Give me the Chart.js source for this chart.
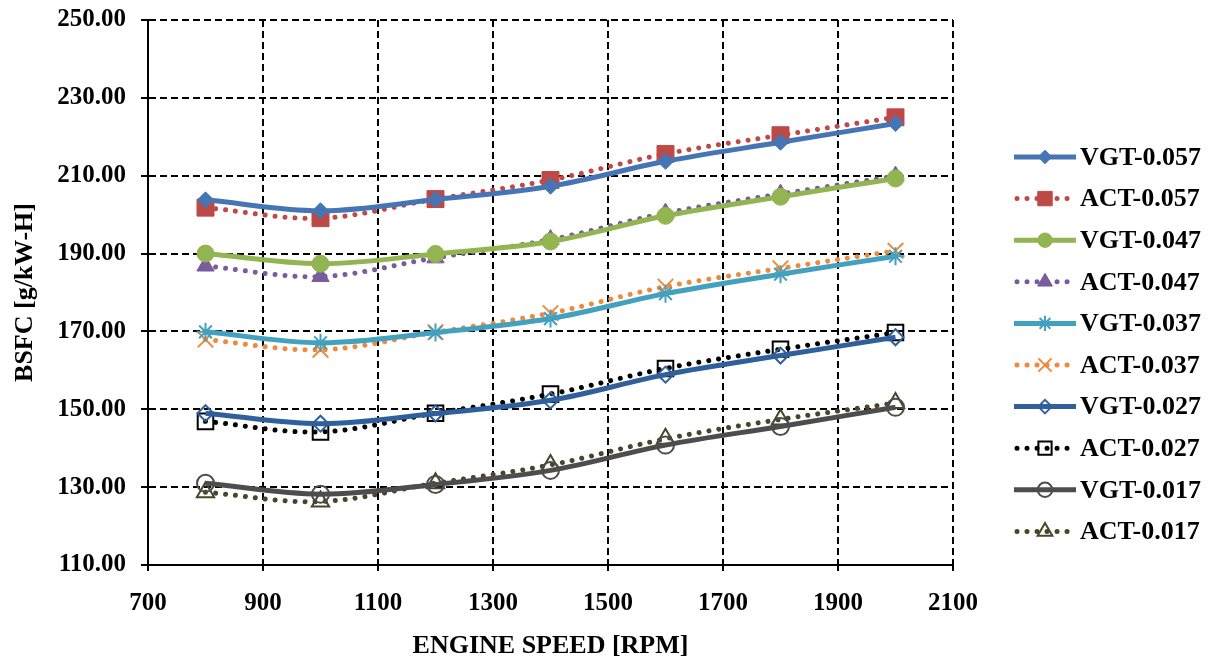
<!DOCTYPE html>
<html>
<head>
<meta charset="utf-8">
<title>BSFC vs Engine Speed</title>
<script src="https://cdn.jsdelivr.net/npm/chart.js"></script>
<style>
    body { margin: 0; background: #fff; }
    #wrap { width: 1213px; height: 662px; }
</style>
</head>
<body>
<div id="wrap"><canvas id="bsfc-chart" width="1213" height="662"></canvas></div>
<script>
// Engine speed points
const rpm = [800, 1000, 1200, 1400, 1600, 1800, 2000];

// BSFC values [g/kW-H]
const vgt057 = [203.8, 201.0, 203.9, 207.3, 213.7, 218.6, 223.4];
const act057 = [201.8, 199.1, 204.0, 208.9, 215.6, 220.4, 225.0];
const vgt047 = [190.0, 187.4, 189.9, 193.1, 199.7, 204.6, 209.3];
const act047 = [186.8, 184.1, 188.9, 193.6, 200.4, 205.3, 209.9];
const vgt037 = [169.9, 167.1, 169.7, 173.3, 179.7, 184.7, 189.3];
const act037 = [167.9, 165.3, 169.8, 174.7, 181.5, 186.2, 190.7];
const vgt027 = [149.0, 146.3, 148.9, 152.3, 158.9, 163.8, 168.5];
const act027 = [146.9, 144.2, 149.0, 153.9, 160.5, 165.4, 169.7];
const vgt017 = [131.0, 128.2, 130.7, 134.3, 140.8, 145.6, 150.5];
const act017 = [128.7, 126.3, 131.0, 135.7, 142.4, 147.4, 151.6];

const seriesNames = ['VGT-0.057', 'ACT-0.057', 'VGT-0.047', 'ACT-0.047', 'VGT-0.037',
                     'ACT-0.037', 'VGT-0.027', 'ACT-0.027', 'VGT-0.017', 'ACT-0.017'];
const seriesValues = [vgt057, act057, vgt047, act047, vgt037, act037, vgt027, act027, vgt017, act017];

// Axis ranges / ticks
const xMin = 700, xMax = 2100, xStep = 200;
const yMin = 110, yMax = 250, yStep = 20;

const FONT = "'Liberation Serif', 'Times New Roman', serif";
const NONE = 'rgba(0,0,0,0)';

// style per series: colour, dotted?, marker, radius, filled?
const styles = [
    { color: '#4675b6', dotted: false, marker: 'rectRot', r: 8, fill: true },
    { color: '#bd4a47', dotted: true, marker: 'rect', r: 12, fill: true },
    { color: '#92b552', dotted: false, marker: 'circle', r: 8.5, fill: true },
    { color: '#7a5c9e', dotted: true, marker: 'triangle', r: 10, fill: true },
    { color: '#41a1bf', dotted: false, marker: 'star', r: 9, fill: false },
    { color: '#ee8a3c', dotted: true, marker: 'crossRot', r: 11, fill: false },
    { color: '#30609b', dotted: false, marker: 'rectRot', r: 8, fill: false },
    { color: '#000000', dotted: true, marker: 'rect', r: 11, fill: false },
    { color: '#4d4d4d', dotted: false, marker: 'circle', r: 8.5, fill: false },
    { color: '#4a4528', dotted: true, marker: 'triangle', r: 10, fill: false }
];

function lineStyle(st) {
    return st.dotted
        ? { borderWidth: 5, borderDash: [0.01, 10], borderCapStyle: 'round' }
        : { borderWidth: 5, borderDash: [], borderCapStyle: 'butt' };
}

const datasets = seriesNames.map((name, i) => {
    const st = styles[i];
    return Object.assign({
        label: name,
        data: rpm.map((x, j) => ({ x: x, y: seriesValues[i][j] })),
        borderColor: st.color,
        backgroundColor: st.color,
        pointStyle: st.marker,
        pointRadius: st.r,
        pointHoverRadius: st.r,
        pointBackgroundColor: st.fill ? st.color : NONE,
        pointBorderColor: st.color,
        pointBorderWidth: st.fill ? 1 : 2,
        tension: 0.35,
        fill: false
    }, lineStyle(st));
});

// Legend drawn on the right: line + marker + bold label
const sideLegend = {
    id: 'sideLegend',
    afterDraw(chart) {
        const ctx = chart.ctx;
        const x0 = 1014, x1 = 1076, top = 157, gap = 41.6;
        chart.data.datasets.forEach((ds, i) => {
            const y = top + i * gap;
            ctx.save();
            ctx.strokeStyle = ds.borderColor;
            ctx.lineWidth = ds.borderWidth;
            ctx.lineCap = ds.borderCapStyle;
            ctx.setLineDash(ds.borderDash);
            ctx.beginPath();
            ctx.moveTo(x0 + (styles[i].dotted ? 3 : 0), y);
            ctx.lineTo(x1 - (styles[i].dotted ? 3 : 0), y);
            ctx.stroke();
            ctx.restore();

            ctx.save();
            ctx.fillStyle = ds.pointBackgroundColor;
            ctx.strokeStyle = ds.pointBorderColor;
            ctx.lineWidth = ds.pointBorderWidth;
            Chart.helpers.drawPoint(ctx, {
                pointStyle: ds.pointStyle,
                radius: ds.pointRadius * 0.85,
                rotation: 0,
                borderWidth: ds.pointBorderWidth
            }, (x0 + x1) / 2, y);
            ctx.restore();

            ctx.save();
            ctx.fillStyle = '#000';
            ctx.font = 'bold 26px ' + FONT;
            ctx.textBaseline = 'middle';
            ctx.textAlign = 'left';
            ctx.fillText(ds.label, 1080, y + 1);
            ctx.restore();
        });
    }
};

const ctx = document.getElementById('bsfc-chart').getContext('2d');
new Chart(ctx, {
    type: 'line',
    data: { datasets: datasets },
    options: {
        responsive: false,
        animation: false,
        devicePixelRatio: 1,
        layout: { padding: { top: 20, right: 260, left: 0, bottom: 0 } },
        plugins: {
            legend: { display: false },
            tooltip: { enabled: false }
        },
        scales: {
            x: {
                type: 'linear',
                min: xMin,
                max: xMax,
                afterFit(scale) { scale.height = 97; },
                ticks: {
                    stepSize: xStep,
                    color: '#000',
                    padding: 18,
                    maxRotation: 0,
                    callback: v => String(v),
                    font: { family: FONT, size: 25, weight: 'bold' }
                },
                grid: {
                    color: '#000',
                    lineWidth: 2,
                    drawTicks: true,
                    tickLength: 6,
                    tickColor: '#000',
                    tickWidth: 2
                },
                border: { display: true, color: '#000', width: 2, dash: [7, 4] },
                title: {
                    display: true,
                    text: 'ENGINE SPEED [RPM]',
                    color: '#000',
                    padding: { top: 4, bottom: 0 },
                    font: { family: FONT, size: 26, weight: 'bold' }
                }
            },
            y: {
                min: yMin,
                max: yMax,
                afterFit(scale) {
                    scale.width = 148;
                    // labels fit inside the padding, keep plot top at 20px
                    scale.paddingTop = 0;
                    scale.paddingBottom = 0;
                },
                ticks: {
                    stepSize: yStep,
                    color: '#000',
                    padding: 15,
                    callback: v => v.toFixed(2),
                    font: { family: FONT, size: 25, weight: 'bold' }
                },
                grid: {
                    color: '#000',
                    lineWidth: 2,
                    drawTicks: true,
                    tickLength: 7,
                    tickColor: '#000',
                    tickWidth: 2
                },
                border: { display: true, color: '#000', width: 2, dash: [7, 4] },
                title: {
                    display: true,
                    text: 'BSFC [g/kW-H]',
                    color: '#000',
                    padding: { top: 10, bottom: 0 },
                    font: { family: FONT, size: 26, weight: 'bold' }
                }
            }
        }
    },
    plugins: [sideLegend]
});
</script>
</body>
</html>
